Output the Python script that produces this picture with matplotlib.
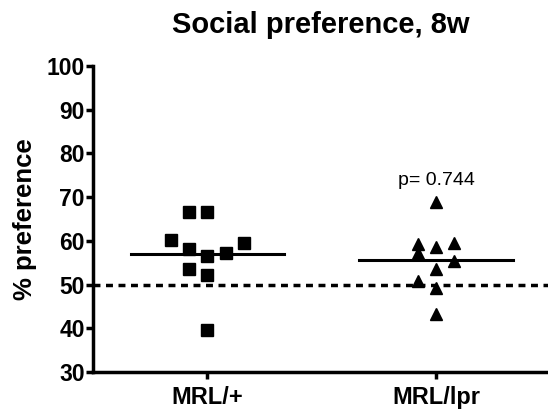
import numpy as np
import matplotlib
matplotlib.use("Agg")
import matplotlib.pyplot as plt

plt.rcParams['font.family'] = ['Liberation Sans', 'DejaVu Sans']

# data
groups = ['MRL/+', 'MRL/lpr']
mrl_plus = [66.5, 66.5, 60.2, 58.1, 56.5, 57.2, 59.4, 53.5, 52.2, 39.6]
mrl_plus_dx = [-0.08, 0.0, -0.16, -0.08, 0.0, 0.08, 0.16, -0.08, 0.0, 0.0]
mrl_lpr = [68.8, 59.3, 58.7, 59.6, 57.2, 55.5, 53.6, 50.9, 49.2, 43.3]
mrl_lpr_dx = [0.0, -0.08, 0.0, 0.08, -0.08, 0.08, 0.0, -0.08, 0.0, 0.0]
p_text = 'p= 0.744'
chance = 50

fig = plt.figure(figsize=(5.48, 4.12), dpi=100)
ax = fig.add_axes([0.170, 0.097, 0.83, 0.743])

xs = np.arange(1, len(groups) + 1)

ax.axhline(chance, color='black', lw=2.5, ls=(0, (2, 1.6)), zorder=1)

ax.plot(xs[0] + np.array(mrl_plus_dx), mrl_plus, 's', color='black', ms=8.5, zorder=3)
ax.plot(xs[1] + np.array(mrl_lpr_dx), mrl_lpr, '^', color='black', ms=9, zorder=3)

for x, vals in zip(xs, [mrl_plus, mrl_lpr]):
    m = np.mean(vals)
    ax.plot([x - 0.335, x + 0.335], [m, m], color='black', lw=2.2, zorder=2)

ax.text(xs[1], 73.8, p_text, ha='center', va='center', fontsize=14)

ax.set_xlim(0.5, 2.49)
ax.set_ylim(30, 100)
ax.set_yticks(np.arange(30, 101, 10))
ax.set_xticks(xs)
ax.set_xticklabels(groups)

for s in ['top', 'right']:
    ax.spines[s].set_visible(False)
for s in ['left', 'bottom']:
    ax.spines[s].set_linewidth(2.5)

ax.tick_params(axis='both', width=2.5, length=5, labelsize=16.5)
for lab in ax.get_xticklabels() + ax.get_yticklabels():
    lab.set_fontweight('bold')
ax.tick_params(axis='y', pad=1)
ax.tick_params(axis='x', labelsize=17, pad=5)

ax.set_ylabel('% preference', fontsize=18.5, fontweight='bold', labelpad=7)
ax.set_title('Social preference, 8w', fontsize=21, fontweight='bold', pad=24)

fig.savefig('out.png', dpi=100)
